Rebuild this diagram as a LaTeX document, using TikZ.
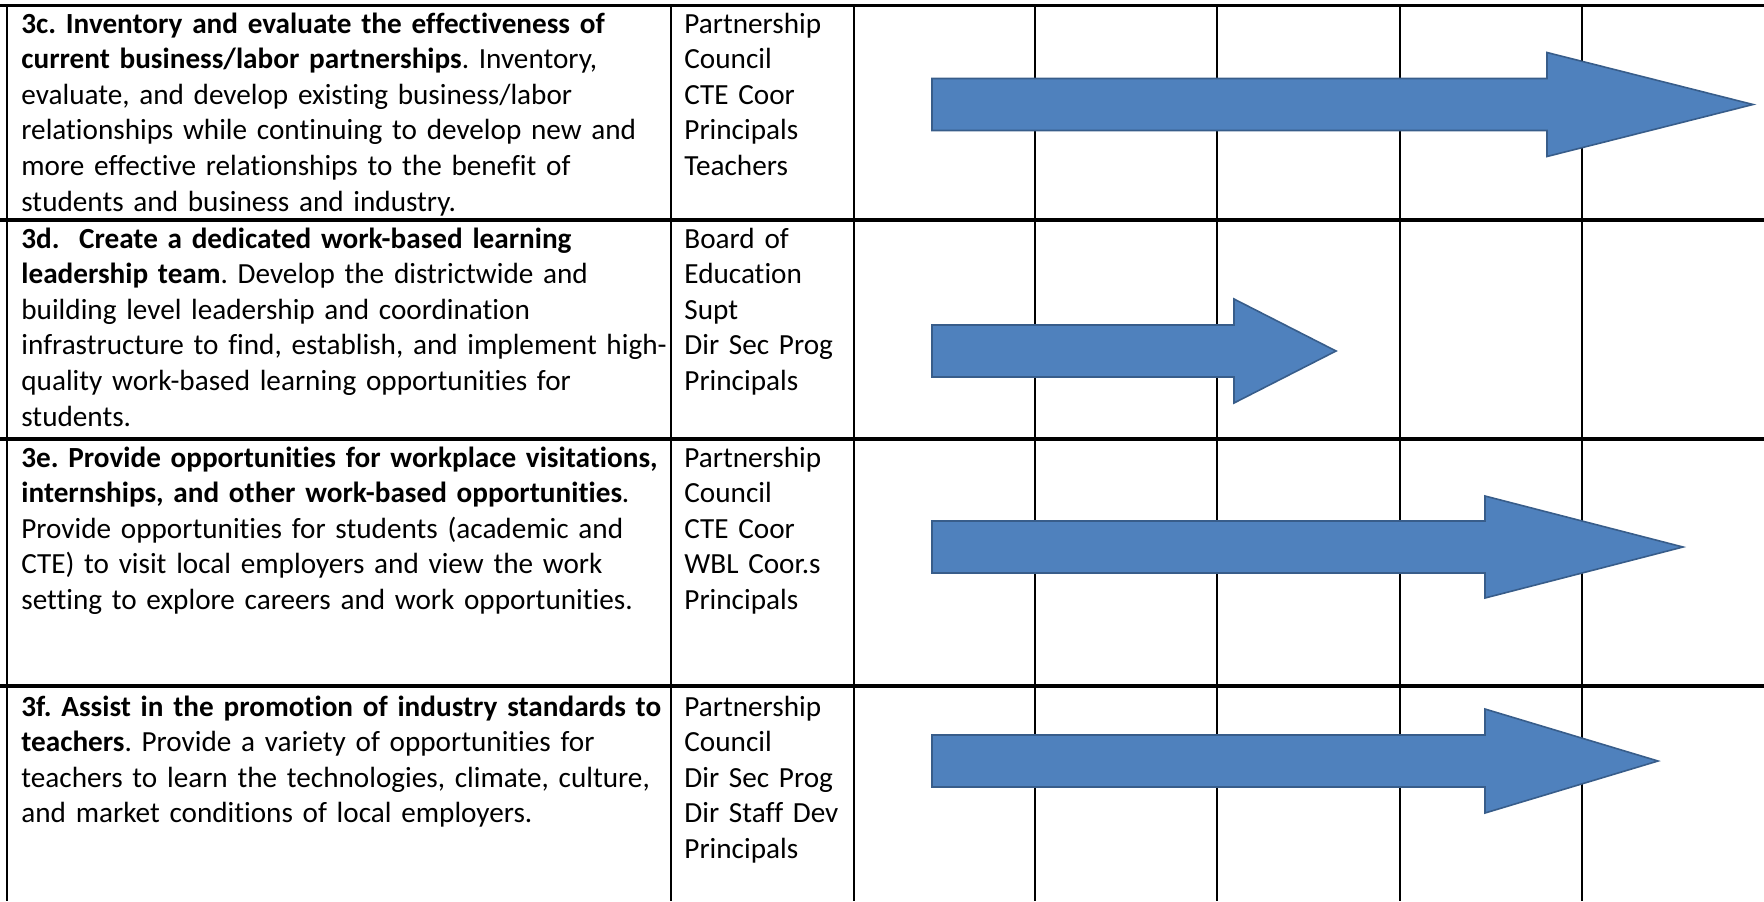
\documentclass[tikz,border=0pt]{standalone}
\usepackage{fontspec}
\setmainfont{Carlito}[Ligatures={NoCommon}]
\definecolor{arrowfill}{HTML}{4F81BD}
\definecolor{arrowedge}{HTML}{385D8A}
\frenchspacing
\begin{document}
\begin{tikzpicture}[x=0.5pt,y=-0.5pt,
  hline/.style={line width=1.6pt},
  vline/.style={line width=1.1pt},
  gantt/.style={fill=arrowfill, draw=arrowedge, line width=0.8pt, line join=miter},
  cell/.style={anchor=base west, inner sep=0pt, text width=#1, align=left,
    font=\fontsize{14.6pt}{17.8pt}\selectfont},
]
\useasboundingbox (0,0) rectangle (1764,901);

% grid lines
\foreach \yy [count=\i] in {5.5,220,439,686}
  \draw[hline] (0,\yy) coordinate (rowL\i) -- (1764,\yy) coordinate (rowR\i);
\foreach \xx [count=\i] in {7,671,854,1035,1217,1400,1582}
  \draw[vline] (\xx,4.7) coordinate (colT\i) -- (\xx,901) coordinate (colB\i);

% row 3c
\node[cell=640pt] (t3c) at (21,33) {\textbf{3c. Inventory and evaluate the effectiveness of}\\
\textbf{current business/labor partnerships}. Inventory,\\
evaluate, and develop existing business/labor\\
relationships while continuing to develop new and\\
more effective relationships to the benefit of\\
students and business and industry.};
\node[cell=160pt] (r3c) at (684,33) {Partnership\\Council\\CTE Coor\\Principals\\Teachers};

% row 3d
\node[cell=640pt] (t3d) at (21,248) {\textbf{3d.\ \ Create a dedicated work-based learning}\\
\textbf{leadership team}. Develop the districtwide and\\
building level leadership and coordination\\
infrastructure to find, establish, and implement high-\\
quality work-based learning opportunities for\\
students.};
\node[cell=160pt] (r3d) at (684,248) {Board of\\Education\\Supt\\Dir Sec Prog\\Principals};

% row 3e
\node[cell=640pt] (t3e) at (21,467) {\textbf{3e. Provide opportunities for workplace visitations,}\\
\textbf{internships, and other work-based opportunities}.\\
Provide opportunities for students (academic and\\
CTE) to visit local employers and view the work\\
setting to explore careers and work opportunities.};
\node[cell=160pt] (r3e) at (684,467) {Partnership\\Council\\CTE Coor\\WBL Coor.s\\Principals};

% row 3f
\node[cell=640pt] (t3f) at (21,716) {\textbf{3f. Assist in the promotion of industry standards to}\\
\textbf{teachers}. Provide a variety of opportunities for\\
teachers to learn the technologies, climate, culture,\\
and market conditions of local employers.};
\node[cell=160pt] (r3f) at (684,716) {Partnership\\Council\\Dir Sec Prog\\Dir Staff Dev\\Principals};

% timeline arrows
\draw[gantt] (932,104.5-26) -- (1547,104.5-26) -- (1547,104.5-52) -- (1753,104.5)
  -- (1547,104.5+52) -- (1547,104.5+26) -- (932,104.5+26) -- cycle;
\draw[gantt] (932,351-26) -- (1234,351-26) -- (1234,351-52) -- (1336,351)
  -- (1234,351+52) -- (1234,351+26) -- (932,351+26) -- cycle;
\draw[gantt] (932,547-26) -- (1485,547-26) -- (1485,547-51) -- (1683,547)
  -- (1485,547+51) -- (1485,547+26) -- (932,547+26) -- cycle;
\draw[gantt] (932,761-26) -- (1485,761-26) -- (1485,761-52) -- (1658,761)
  -- (1485,761+52) -- (1485,761+26) -- (932,761+26) -- cycle;
\end{tikzpicture}
\end{document}
